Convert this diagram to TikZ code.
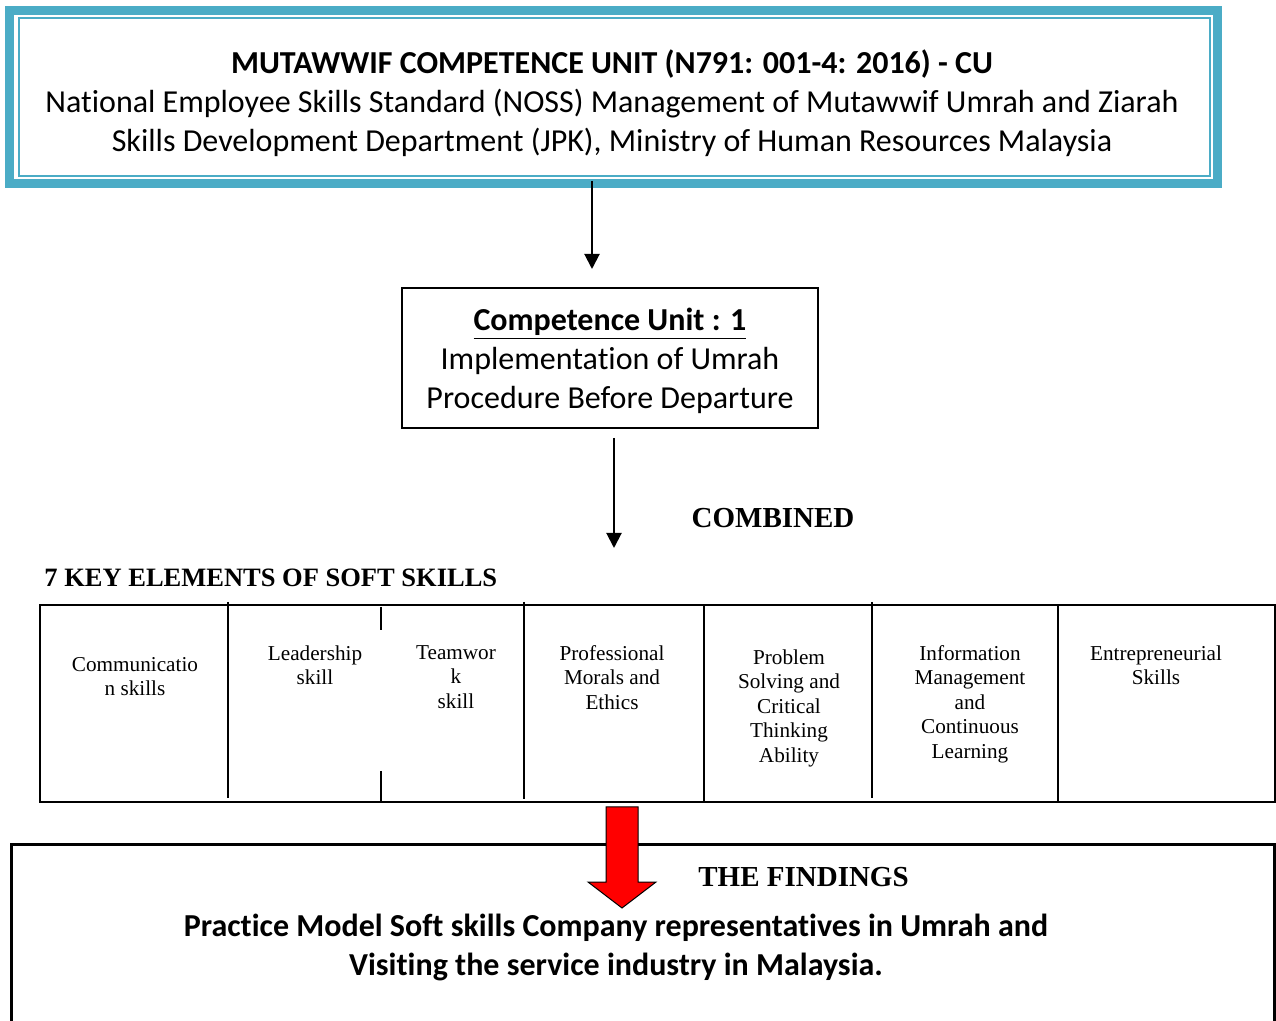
\documentclass[tikz,border=0pt]{standalone}
\usepackage{fontspec}
\setmainfont{Liberation Serif}
\newfontfamily\calib[Ligatures=NoCommon]{Carlito}
\usetikzlibrary{arrows.meta}
\definecolor{tealc}{HTML}{4BACC6}
\definecolor{redc}{HTML}{FF0000}
\begin{document}
\begin{tikzpicture}[x=0.5pt,y=-0.5pt,
  arr/.style={line width=1pt,-{Triangle[length=7.5pt,width=7.5pt]}},
  celltxt/.style={font=\fontsize{10.6}{12.25}\selectfont,align=center,inner sep=0pt,anchor=north},
  calbody/.style={font=\calib\fontsize{16}{19.5}\selectfont,align=center,inner sep=0pt},
  heading/.style={font=\bfseries\fontsize{14.5}{17}\selectfont,inner sep=0pt},
  divider/.style={line width=1pt}]
\useasboundingbox (0,0) rectangle (1276,1021);
\fill[white] (0,0) rectangle (1276,1021);

% top teal box
\node[draw=tealc,line width=4.5pt,outer sep=0pt,minimum width=604pt,minimum height=86.5pt] (top) at (613.5,97) {};
\draw[tealc,line width=1pt] ([shift={(4.5pt,-4pt)}]top.north west) rectangle ([shift={(-3.75pt,3.75pt)}]top.south east);
\node[calbody] (toptxt) at (612,103.5) {\textbf{MUTAWWIF COMPETENCE UNIT (N791: 001-4: 2016) - CU}\\
National Employee Skills Standard (NOSS) Management of Mutawwif Umrah and Ziarah\\
Skills Development Department (JPK), Ministry of Human Resources Malaysia};

% competence unit box
\node[draw,line width=1pt,minimum width=208pt,minimum height=70pt] (cu) at (610,358) {};
\node[calbody] (cutxt) at (610,360.5)
  {\textbf{\underline{Competence Unit : 1}}\\Implementation of Umrah\\Procedure Before Departure};

\draw[arr] ([xshift=-10.75pt,yshift=1.25pt]top.south) -- ([xshift=-9pt,yshift=9pt]cu.north);

\coordinate (c2) at (614,548);
\draw[arr] ([xshift=2pt,yshift=-4.5pt]cu.south) -- (c2);

\node[heading] (comb) at (773,518) {COMBINED};
\node[heading,font=\bfseries\fontsize{13.25}{16}\selectfont,anchor=west] (keyel) at (44,578) {7 KEY ELEMENTS OF SOFT SKILLS};

% table
\node[draw,line width=1pt,minimum width=617.5pt,minimum height=98.5pt] (tbl) at (657.5,703.5) {};
\draw[divider] (228,602) -- (228,798);
\draw[divider] (381,607) -- (381,630);
\draw[divider] (381,771) -- (381,802);
\draw[divider] (524,602) -- (524,799);
\draw[divider] (704,605) -- (704,802);
\draw[divider] (872,602) -- (872,798);
\draw[divider] (1058,605) -- (1058,802);

\node[celltxt] (s1) at (135,657) {Communicatio\\n skills};
\node[celltxt] (s2) at (315,645) {Leadership\\skill};
\node[celltxt] (s3) at (456,645) {Teamwor\\k\\skill};
\node[celltxt] (s4) at (612,645) {Professional\\Morals and\\Ethics};
\node[celltxt] (s5) at (789,649) {Problem\\Solving and\\Critical\\Thinking\\Ability};
\node[celltxt] (s6) at (970,645) {Information\\Management\\and\\Continuous\\Learning};
\node[celltxt] (s7) at (1156,645) {Entrepreneurial\\Skills};

% findings box
\draw[line width=1.5pt] (11,1021) -- (11,844) -- (1274,844) -- (1274,1021);
\node[heading,anchor=west] (find) at (698,877) {THE FINDINGS};
\node[calbody,font=\calib\bfseries\fontsize{16}{19.5}\selectfont] (findtxt) at (616,947.5)
  {Practice Model Soft skills Company representatives in Umrah and\\Visiting the service industry in Malaysia.};

% red arrow
\draw[fill=redc,draw=black,line width=0.5pt] (606,807) -- (638,807) -- (638,882) -- (656,882) -- (622,908) -- (588,882) -- (606,882) -- cycle;
\end{tikzpicture}
\end{document}
